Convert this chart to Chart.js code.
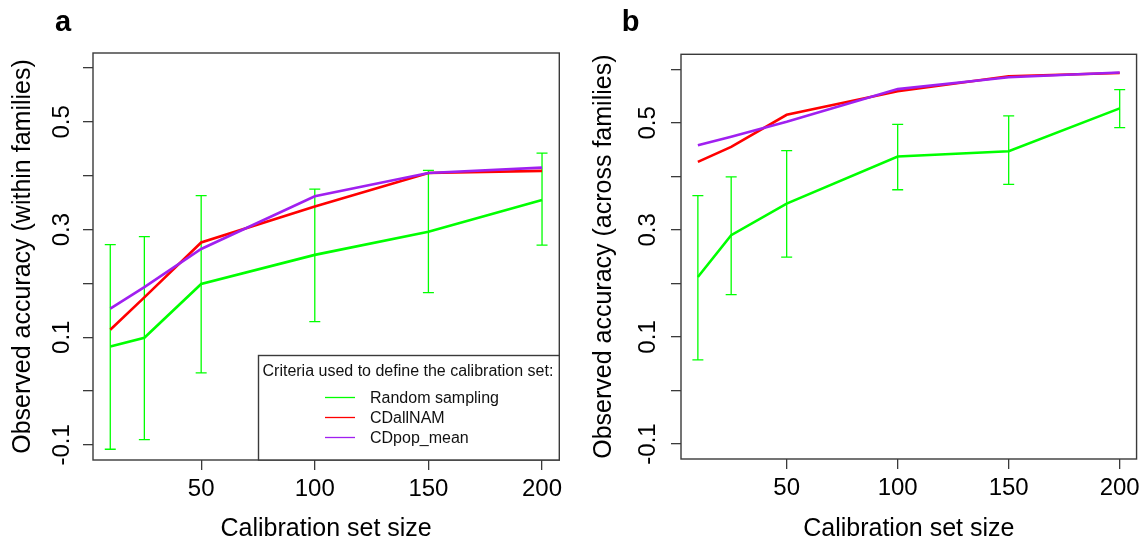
<!DOCTYPE html>
<html>
<head>
<meta charset="utf-8">
<script src="https://cdn.jsdelivr.net/npm/chart.js@4/dist/chart.umd.min.js"></script>
<style>
  html, body { margin: 0; padding: 0; background: #fff; }
  #wrap { position: relative; width: 1147px; height: 542px; overflow: hidden; }
  canvas { position: absolute; top: 0; }
  #panelA { left: 0; }
  #panelB { left: 573px; }
</style>
</head>
<body>
<div id="wrap">
  <canvas id="panelA" width="573" height="542"></canvas>
  <canvas id="panelB" width="574" height="542"></canvas>
</div>
<script>
// calibration set sizes (x)
const sizes = [10, 25, 50, 100, 150, 200];
const xTicks = [50, 100, 150, 200];
const yTicks = [-0.1, 0, 0.1, 0.2, 0.3, 0.4, 0.5, 0.6];
const yLabelled = [-0.1, 0.1, 0.3, 0.5];

const seriesNames = ['Random sampling', 'CDallNAM', 'CDpop_mean'];
const legendTitle = 'Criteria used to define the calibration set:';

// panel a: within families
const withinRandom = [0.083, 0.099, 0.199, 0.253, 0.296, 0.355];
const withinRandomLow = [-0.108, -0.090, 0.034, 0.129, 0.183, 0.271];
const withinRandomHigh = [0.272, 0.287, 0.363, 0.375, 0.410, 0.442];
const withinCDallNAM = [0.114, 0.174, 0.276, 0.343, 0.405, 0.409];
const withinCDpop = [0.153, 0.193, 0.264, 0.362, 0.405, 0.415];

// panel b: across families
const acrossRandom = [0.212, 0.290, 0.349, 0.437, 0.447, 0.527];
const acrossRandomLow = [0.057, 0.179, 0.249, 0.375, 0.385, 0.491];
const acrossRandomHigh = [0.364, 0.399, 0.448, 0.497, 0.513, 0.562];
const acrossCDallNAM = [0.427, 0.455, 0.515, 0.559, 0.587, 0.593];
const acrossCDpop = [0.458, 0.474, 0.502, 0.563, 0.585, 0.594];

const GREEN = '#00ff00';
const RED = '#ff0000';
const PURPLE = '#a020f0';
const AXIS = '#3a3a3a';
const FONT = '"Liberation Sans", Arial, Helvetica, sans-serif';

function pts(ys) {
    return sizes.map(function (x, i) {
        return { x: x, y: ys[i] };
    });
}

// green error bars for the random sampling series
const errorBars = {
    id: 'errorBars',
    beforeDatasetsDraw(chart, args, opts) {
        const ctx = chart.ctx;
        const xs = chart.scales.x;
        const ys = chart.scales.y;
        ctx.save();
        ctx.strokeStyle = GREEN;
        ctx.lineWidth = 1.3;
        sizes.forEach(function (s, i) {
            const px = xs.getPixelForValue(s);
            const lo = ys.getPixelForValue(opts.low[i]);
            const hi = ys.getPixelForValue(opts.high[i]);
            ctx.beginPath();
            ctx.moveTo(px, lo);
            ctx.lineTo(px, hi);
            ctx.moveTo(px - 5.5, lo);
            ctx.lineTo(px + 5.5, lo);
            ctx.moveTo(px - 5.5, hi);
            ctx.lineTo(px + 5.5, hi);
            ctx.stroke();
        });
        ctx.restore();
    },
};

// frame, panel letter and (optionally) the legend box
const decorations = {
    id: 'decorations',
    afterDraw(chart, args, opts) {
        const ctx = chart.ctx;
        const a = chart.chartArea;
        ctx.save();
        ctx.strokeStyle = AXIS;
        ctx.lineWidth = 1.4;
        ctx.strokeRect(a.left, a.top, a.right - a.left, a.bottom - a.top);

        ctx.fillStyle = '#000';
        ctx.font = 'bold 29px ' + FONT;
        ctx.textAlign = 'left';
        ctx.textBaseline = 'alphabetic';
        ctx.fillText(opts.letter, opts.letterX, 31);

        if (opts.legend) {
            const bx = 258.5, by = 355.5;
            const bw = a.right - bx, bh = a.bottom - by;
            ctx.fillStyle = '#fff';
            ctx.fillRect(bx, by, bw, bh);
            ctx.strokeRect(bx, by, bw, bh);
            ctx.fillStyle = '#111';
            ctx.font = '16px ' + FONT;
            ctx.textBaseline = 'middle';
            ctx.fillText(legendTitle, bx + 4, by + 16);
            chart.data.datasets.forEach(function (ds, i) {
                const ly = by + 42 + i * 20;
                ctx.strokeStyle = ds.borderColor;
                ctx.lineWidth = 1.3;
                ctx.beginPath();
                ctx.moveTo(325, ly);
                ctx.lineTo(355, ly);
                ctx.stroke();
                ctx.fillText(ds.label, 370, ly + 1);
            });
        }
        ctx.restore();
    },
};

function makePanel(id, opt) {
    const canvas = document.getElementById(id);
    return new Chart(canvas, {
        type: 'line',
        data: {
            datasets: [
                { label: seriesNames[0], data: pts(opt.random), borderColor: GREEN, order: 3 },
                { label: seriesNames[1], data: pts(opt.cdall), borderColor: RED, order: 2 },
                { label: seriesNames[2], data: pts(opt.cdpop), borderColor: PURPLE, order: 1 },
            ],
        },
        options: {
            responsive: false,
            animation: false,
            devicePixelRatio: 1,
            elements: {
                point: { radius: 0, hoverRadius: 0 },
                line: { borderWidth: 2.6, tension: 0, fill: false },
            },
            layout: {
                padding: { left: 0, top: opt.top, right: opt.right, bottom: 0 },
            },
            plugins: {
                legend: { display: false },
                tooltip: { enabled: false },
                errorBars: { low: opt.low, high: opt.high },
                decorations: { letter: opt.letter, letterX: opt.letterX, legend: opt.legend },
            },
            scales: {
                x: {
                    type: 'linear',
                    min: 2.4,
                    max: 207.6,
                    afterBuildTicks: function (scale) {
                        scale.ticks = xTicks.map(function (v) { return { value: v }; });
                    },
                    afterFit: function (scale) { scale.height = opt.xHeight; },
                    border: { display: false },
                    grid: { drawOnChartArea: false, drawTicks: true, tickLength: 10, color: AXIS, lineWidth: 1.3 },
                    ticks: {
                        autoSkip: false,
                        maxRotation: 0,
                        padding: 7,
                        color: '#000',
                        font: { family: FONT, size: 24, lineHeight: 1 },
                        callback: function (v) { return String(v); },
                    },
                    title: {
                        display: true,
                        text: 'Calibration set size',
                        color: '#000',
                        font: { family: FONT, size: 25, lineHeight: 1 },
                        padding: { top: 0, bottom: 0 },
                    },
                },
                y: {
                    type: 'linear',
                    min: -0.128,
                    max: 0.628,
                    afterBuildTicks: function (scale) {
                        scale.ticks = yTicks.map(function (v) { return { value: v }; });
                    },
                    afterFit: function (scale) { scale.width = opt.yWidth; },
                    border: { display: false },
                    grid: { drawOnChartArea: false, drawTicks: true, tickLength: 10, color: AXIS, lineWidth: 1.3 },
                    ticks: {
                        autoSkip: false,
                        minRotation: 90,
                        maxRotation: 90,
                        crossAlign: 'center',
                        padding: opt.yPad,
                        color: '#000',
                        font: { family: FONT, size: 24, lineHeight: 1 },
                        callback: function (v) {
                            const r = Math.round(v * 10) / 10;
                            return yLabelled.indexOf(r) >= 0 ? r.toFixed(1) : '';
                        },
                    },
                    title: {
                        display: true,
                        text: opt.yTitle,
                        color: '#000',
                        font: { family: FONT, size: 25, lineHeight: 1 },
                        padding: { top: opt.titlePad, bottom: 0 },
                    },
                },
            },
        },
        plugins: [errorBars, decorations],
    });
}

makePanel('panelA', {
    random: withinRandom, low: withinRandomLow, high: withinRandomHigh,
    cdall: withinCDallNAM, cdpop: withinCDpop,
    yTitle: 'Observed accuracy (within families)',
    letter: 'a', letterX: 55, legend: true,
    top: 53, right: 13.7, yWidth: 93, xHeight: 82, yPad: 0, titlePad: 10.5,
});

makePanel('panelB', {
    random: acrossRandom, low: acrossRandomLow, high: acrossRandomHigh,
    cdall: acrossCDallNAM, cdpop: acrossCDpop,
    yTitle: 'Observed accuracy (across families)',
    letter: 'b', letterX: 48.7, legend: false,
    top: 54.3, right: 7.7, yWidth: 108, xHeight: 83, yPad: 2.3, titlePad: 18.5,
});
</script>
</body>
</html>
